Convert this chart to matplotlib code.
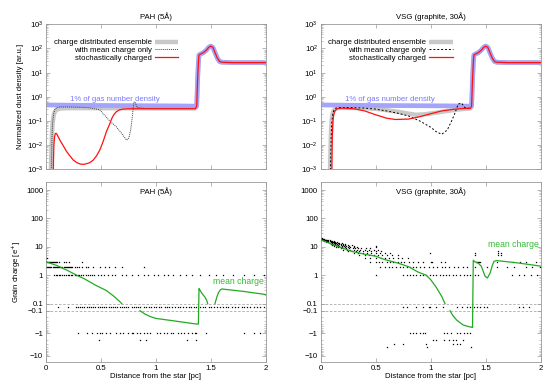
import numpy as np
import matplotlib.pyplot as plt

plt.rcParams['font.family'] = ['Liberation Sans', 'DejaVu Sans']
plt.rcParams['font.size'] = 5.6

# ---- top panels: normalized dust density ----
gas_x = [0, 0.4, 0.8, 1.2, 1.355]
gas_v = [0.46, 0.44, 0.43, 0.42, 0.41]
# common part after the shock (all curves follow it)
tail_x = [1.37, 1.372, 1.38, 1.388, 1.393, 1.41, 1.43, 1.46, 1.48, 1.50, 1.52, 1.54, 1.56, 1.58, 1.60, 1.7, 2.0]
tail_v = [0.40, 0.45, 5.0, 30, 54, 60, 66, 85, 110, 126, 110, 65, 40, 29, 27, 26, 26]

pah_ens_x = [0.04, 0.045, 0.05, 0.055, 0.06, 0.07, 0.08, 0.1, 0.13, 0.2, 0.5, 1.0, 1.36]
pah_ens_v = [1e-4, 1e-3, 0.006, 0.03, 0.08, 0.17, 0.24, 0.3, 0.33, 0.34, 0.34, 0.33, 0.33]
pah_mean_x = [0.045, 0.05, 0.055, 0.06, 0.07, 0.08, 0.1, 0.13, 0.2, 0.3, 0.4, 0.49, 0.58, 0.64, 0.69,
              0.734, 0.755, 0.771, 0.78, 0.789, 0.80, 0.81, 0.83, 0.9, 1.36]
pah_mean_v = [1e-4, 2e-3, 0.02, 0.08, 0.2, 0.3, 0.36, 0.38, 0.38, 0.37, 0.35, 0.29, 0.1, 0.057, 0.03,
              0.016, 0.02, 0.043, 0.09, 0.21, 0.6, 0.62, 0.36, 0.33, 0.33]
pah_sto_x = [0.066, 0.068, 0.072, 0.078, 0.085, 0.092, 0.1, 0.127, 0.16, 0.188, 0.22, 0.249, 0.28, 0.31,
             0.34, 0.37, 0.40, 0.43, 0.46, 0.49, 0.52, 0.55, 0.58, 0.6, 0.62, 0.64, 0.67, 0.7, 0.75, 1.0, 1.36]
pah_sto_v = [1e-4, 2e-3, 0.01, 0.022, 0.03, 0.031, 0.028, 0.016, 0.009, 5.4e-3, 3.5e-3, 2.4e-3, 1.9e-3,
             1.65e-3, 1.6e-3, 1.7e-3, 1.9e-3, 2.4e-3, 3.6e-3, 6.3e-3, 0.014, 0.036, 0.075, 0.13, 0.19,
             0.24, 0.29, 0.31, 0.32, 0.32, 0.32]

vsg_ens_x = [0.08, 0.085, 0.09, 0.095, 0.1, 0.11, 0.12, 0.14, 0.17, 0.25, 0.4, 0.5, 0.6, 0.7, 0.8, 0.87,
             0.95, 1.05, 1.15, 1.25, 1.36]
vsg_ens_v = [1e-4, 1e-3, 0.01, 0.05, 0.12, 0.22, 0.28, 0.33, 0.35, 0.35, 0.34, 0.32, 0.28, 0.24, 0.2,
             0.18, 0.19, 0.22, 0.26, 0.3, 0.33]
vsg_mean_x = [0.085, 0.09, 0.095, 0.1, 0.11, 0.12, 0.14, 0.17, 0.25, 0.4, 0.5, 0.6, 0.7, 0.8, 0.9, 1.0,
              1.05, 1.1, 1.15, 1.19, 1.22, 1.25, 1.28, 1.31, 1.36]
vsg_mean_v = [1e-4, 2e-3, 0.02, 0.08, 0.2, 0.28, 0.34, 0.36, 0.36, 0.34, 0.31, 0.26, 0.21, 0.16, 0.1,
              0.055, 0.036, 0.028, 0.042, 0.1, 0.21, 0.5, 0.55, 0.36, 0.33]
vsg_sto_x = [0.1, 0.102, 0.105, 0.11, 0.115, 0.12, 0.13, 0.145, 0.16, 0.2, 0.3, 0.4, 0.5, 0.6, 0.68,
             0.8, 0.9, 1.0, 1.1, 1.2, 1.3, 1.36]
vsg_sto_v = [1e-4, 2e-3, 0.02, 0.08, 0.15, 0.2, 0.26, 0.31, 0.33, 0.34, 0.32, 0.26, 0.18, 0.13, 0.115,
             0.12, 0.15, 0.2, 0.26, 0.3, 0.33, 0.33]

# ---- bottom panels: mean grain charge (gap = |q| < 0.1 not drawn) ----
pah_q_x = [0, 0.1, 0.2, 0.28, 0.35, 0.45, 0.55, 0.62, 0.67, 0.69, None,
           0.856, 0.9, 0.947, 1.0, 1.16, 1.3, 1.37, 1.387, 1.393, 1.402, 1.417, 1.432, 1.447, 1.463, 1.472, None,
           1.538, 1.555, 1.569, 1.585, 1.6, 1.8, 2.0]
pah_q_v = [3.0, 2.2, 1.45, 1.0, 0.75, 0.45, 0.29, 0.18, 0.12, 0.1, None,
           -0.1, -0.14, -0.18, -0.22, -0.28, -0.35, -0.39, -0.39, 0.34, 0.3, 0.24, 0.2, 0.17, 0.13, 0.1, None,
           0.1, 0.17, 0.24, 0.3, 0.33, 0.27, 0.21]
vsg_q_x = [0, 0.1, 0.28, 0.4, 0.5, 0.58, 0.7, 0.8, 0.885, 0.96, 1.0, 1.05, 1.1, 1.13, None,
           1.175, 1.2, 1.236, 1.27, 1.296, 1.34, 1.372, 1.38, 1.387, 1.40, 1.43, 1.46, 1.48, 1.494, 1.515,
           1.54, 1.56, 1.575, 1.6, 1.8, 2.0]
vsg_q_v = [18, 12.5, 7.0, 5.5, 4.7, 3.6, 2.7, 2.0, 1.3, 1.0, 0.7, 0.38, 0.18, 0.1, None,
           -0.1, -0.16, -0.26, -0.35, -0.43, -0.5, -0.54, -0.55, 3.4, 3.0, 2.7, 2.1, 1.3, 0.93, 0.8,
           1.2, 2.2, 3.1, 3.3, 2.7, 2.1]

# ---- bottom panels: charges of individual grains ----
pah_levels = [4, 3, 2, 1, 0, -1, -2]
pah_pos = [
    [0.004, 0.012],
    [0.0, 0.008, 0.016, 0.024, 0.032, 0.04, 0.048, 0.056, 0.064, 0.072, 0.08, 0.09, 0.1, 0.115, 0.164,
     0.182, 0.212, 0.33],
    [0.0, 0.01, 0.02, 0.03, 0.04, 0.05, 0.06, 0.07, 0.08, 0.09, 0.1, 0.11, 0.12, 0.13, 0.14, 0.15, 0.16,
     0.17, 0.18, 0.19, 0.2, 0.21, 0.22, 0.23, 0.24, 0.26, 0.28, 0.3, 0.33, 0.36, 0.38, 0.43, 0.49, 0.54,
     0.57, 0.63, 0.69, 0.89],
    [0.07, 0.09, 0.1, 0.12, 0.13, 0.15, 0.16, 0.18, 0.2, 0.21, 0.23, 0.24, 0.26, 0.27, 0.29, 0.3, 0.32,
     0.34, 0.36, 0.38, 0.4, 0.42, 0.44, 0.47, 0.5, 0.53, 0.56, 0.6, 0.63, 0.69, 0.73, 0.78, 0.84, 0.89,
     0.93, 0.98, 1.02, 1.07, 1.11, 1.16, 1.22, 1.27, 1.33, 1.40, 1.48, 1.55, 1.61, 1.70, 1.80, 1.89, 1.98],
    [0.11, 0.2, 0.27, 0.29, 0.31, 0.33, 0.35, 0.37, 0.39, 0.41, 0.43, 0.45, 0.47, 0.49, 0.51, 0.53, 0.55,
     0.57, 0.59, 0.61, 0.63, 0.65, 0.67, 0.69, 0.71, 0.73, 0.75, 0.78, 0.8, 0.82, 0.84, 0.86, 0.89, 0.91,
     0.94, 0.96, 0.98, 1.0, 1.03, 1.05, 1.08, 1.1, 1.12, 1.15, 1.17, 1.2, 1.22, 1.25, 1.27, 1.3, 1.32,
     1.35, 1.37, 1.4, 1.43, 1.45, 1.48, 1.5, 1.53, 1.56, 1.58, 1.61, 1.64, 1.66, 1.69, 1.72, 1.75, 1.78,
     1.8, 1.83, 1.86, 1.89, 1.92, 1.95, 1.98],
    [0.29, 0.37, 0.42, 0.46, 0.49, 0.51, 0.55, 0.58, 0.64, 0.67, 0.70, 0.75, 0.78, 0.79, 0.83, 0.86, 0.89,
     0.92, 0.95, 1.01, 1.04, 1.07, 1.10, 1.14, 1.16, 1.20, 1.23, 1.26, 1.29, 1.33, 1.36, 1.37, 1.46, 1.80,
     1.89, 1.95],
    [0.485, 0.856, 0.91, 1.28, 1.365],
]

vsg_levels = [20, 19, 18, 17, 16, 15, 14, 13, 12, 11, 10, 9, 8, 7, 6, 5, 4, 3, 2, 1, 0, -1, -2, -3, -4]
vsg_pos = [
    [0.0, 0.01],
    [0.0, 0.01, 0.02, 0.03],
    [0.0, 0.01, 0.02, 0.03, 0.04, 0.05],
    [0.02, 0.03, 0.04, 0.05, 0.06, 0.07, 0.08],
    [0.03, 0.05, 0.06, 0.07, 0.08, 0.09, 0.1, 0.12],
    [0.05, 0.07, 0.09, 0.1, 0.11, 0.12, 0.13, 0.15],
    [0.08, 0.1, 0.12, 0.13, 0.14, 0.16, 0.17, 0.19],
    [0.09, 0.11, 0.13, 0.15, 0.17, 0.18, 0.2, 0.22],
    [0.1, 0.12, 0.14, 0.16, 0.18, 0.2, 0.22, 0.25, 0.28],
    [0.12, 0.15, 0.17, 0.19, 0.21, 0.23, 0.26, 0.3, 0.5],
    [0.14, 0.16, 0.19, 0.22, 0.25, 0.27, 0.3, 0.33, 0.5],
    [0.18, 0.2, 0.23, 0.26, 0.29, 0.31, 0.34, 0.37, 0.41, 0.45],
    [0.2, 0.24, 0.27, 0.3, 0.33, 0.36, 0.4, 0.44, 0.48, 0.52],
    [0.25, 0.28, 0.32, 0.35, 0.38, 0.42, 0.46, 0.5, 0.55, 1.61],
    [0.3, 0.34, 0.38, 0.42, 0.46, 0.5, 0.54, 0.58, 0.63, 0.99, 1.40, 1.61, 1.64],
    [0.35, 0.4, 0.44, 0.48, 0.52, 0.56, 0.6, 0.65, 0.7, 1.40, 1.61, 1.64],
    [0.4, 0.45, 0.5, 0.55, 0.58, 0.62, 0.66, 0.7, 0.74, 0.79],
    [0.45, 0.5, 0.53, 0.56, 0.6, 0.63, 0.66, 0.7, 0.73, 0.76, 0.8, 0.84, 0.88, 0.93, 1.0, 1.01, 1.09, 1.13,
     1.41, 1.42, 1.43, 1.44, 1.45, 1.6, 1.75, 1.81, 1.87, 1.96],
    [0.54, 0.58, 0.62, 0.65, 0.68, 0.72, 0.75, 0.78, 0.81, 0.84, 0.87, 0.9, 0.94, 0.98, 1.02, 1.06, 1.1,
     1.13, 1.17, 1.21, 1.25, 1.29, 1.33, 1.4, 1.51, 1.6, 1.69, 1.76, 1.87, 1.92, 1.99],
    [0.5, 0.75, 0.78, 0.81, 0.84, 0.87, 0.9, 0.93, 0.96, 0.99, 1.02, 1.05, 1.08, 1.11, 1.14, 1.17, 1.2,
     1.23, 1.27, 1.3, 1.33, 1.36, 1.40, 1.43, 1.74, 1.8, 1.85, 1.91, 1.97],
    [0.75, 0.78, 0.87, 0.93, 0.98, 0.99, 1.05, 1.11, 1.24, 1.28, 1.33, 1.36, 1.39, 1.42, 1.45, 1.48, 1.51,
     1.80, 1.84, 1.89],
    [0.81, 0.84, 0.87, 0.9, 0.93, 0.95, 1.12, 1.15, 1.18, 1.24, 1.27, 1.30, 1.33, 1.36],
    [1.02, 1.05, 1.12, 1.17, 1.2, 1.23, 1.29],
    [0.67, 0.75, 0.96, 1.2, 1.24, 1.27],
    [0.6, 0.97, 1.37],
]

# ---- split log scale for the charge axis ----
H, AP, AN = 3.5, 28.4, 22.6


def fwd(y):
    y = np.asarray(y, float)
    with np.errstate(all='ignore'):
        pos = H + AP * (np.log10(np.abs(y)) + 1)
        neg = -(H + AN * (np.log10(np.abs(y)) + 1))
        lin = y / 0.1 * H
    return np.where(y >= 0.1, pos, np.where(y <= -0.1, neg, lin))


def inv(u):
    u = np.asarray(u, float)
    with np.errstate(all='ignore'):
        pos = 10 ** ((u - H) / AP - 1)
        neg = -10 ** ((-u - H) / AN - 1)
        lin = u / H * 0.1
    return np.where(u >= H, pos, np.where(u <= -H, neg, lin))


frame = '#999999'


def style(ax):
    for s in ax.spines.values():
        s.set_color(frame)
        s.set_linewidth(0.6)
    ax.tick_params(which='both', direction='in', top=True, right=True, color=frame,
                   labelsize=5.6, pad=2)
    ax.tick_params(which='major', length=3, width=0.5)
    ax.tick_params(which='minor', length=1.5, width=0.4)
    ax.set_xlim(0, 2)
    ax.set_xticks([0, 0.5, 1, 1.5, 2])


fig = plt.figure(figsize=(5.5, 3.85), dpi=100)
top_axes = [fig.add_axes([0.0836, 0.5603, 0.3995, 0.3765]),
            fig.add_axes([0.5831, 0.5603, 0.4, 0.3765])]
bot_axes = [fig.add_axes([0.0836, 0.059, 0.3995, 0.4683]),
            fig.add_axes([0.5831, 0.059, 0.4, 0.4683])]

titles = ['PAH (5Å)', 'VSG (graphite, 30Å)']
ens = [(pah_ens_x, pah_ens_v), (vsg_ens_x, vsg_ens_v)]
mean = [(pah_mean_x, pah_mean_v), (vsg_mean_x, vsg_mean_v)]
sto = [(pah_sto_x, pah_sto_v), (vsg_sto_x, vsg_sto_v)]
mean_style = [dict(color='#444444', ls=(0, (1, 1)), lw=0.7),
              dict(color='k', ls=(0, (2, 2)), lw=0.7)]
leg_anchor = [(0.3236, 0.899), (0.8230, 0.899)]

for i, ax in enumerate(top_axes):
    ax.set_yscale('log')
    ax.plot(ens[i][0] + tail_x, ens[i][1] + tail_v, color='#c8c8c8', lw=3.2,
            label='charge distributed ensemble', zorder=1, solid_capstyle='butt')
    ax.plot(gas_x + tail_x, gas_v + tail_v, color='#a4a4fa', lw=3.4, zorder=2, solid_capstyle='butt')
    ax.plot(mean[i][0], mean[i][1], label='with mean charge only', zorder=3, **mean_style[i])
    ax.plot(sto[i][0] + tail_x, sto[i][1] + tail_v, color='#ff1010', lw=0.9,
            label='stochastically charged', zorder=4)
    ax.text(0.63, 0.74, '1% of gas number density', color='#7878ff', ha='center', va='center')
    ax.set_ylim(1e-3, 1e3)
    style(ax)
    ax.tick_params(axis='x', labelbottom=False)
    ax.set_title(titles[i], fontsize=5.6, pad=4)
    ax.legend(loc='upper right', bbox_to_anchor=leg_anchor[i], bbox_transform=fig.transFigure,
              frameon=False, markerfirst=False, borderpad=0, borderaxespad=0,
              handlelength=3.0, handletextpad=0.4, labelspacing=0.05, fontsize=5.6)
top_axes[0].set_ylabel('Normalized dust density [ar.u.]', labelpad=2)

charge = [(pah_q_x, pah_q_v), (vsg_q_x, vsg_q_v)]
dots = [(pah_levels, pah_pos), (vsg_levels, vsg_pos)]
label_xy = [(1.75, 0.6), (1.75, 12)]
major = [1000, 100, 10, 1, 0.1, -0.1, -1, -10]
major_lbl = ['1000', '100', '10', '1', '0.1', '−0.1', '−1', '−10']
minor = [k * 10.0 ** e for e in range(-1, 3) for k in range(2, 10)]
minor = minor + [-m for m in minor if m < 20]

for i, ax in enumerate(bot_axes):
    ax.set_yscale('function', functions=(fwd, inv))
    ax.set_ylim(-19.2, 1930)
    ax.axhline(0.1, color='#aaaaaa', lw=0.6, ls=(0, (3, 2)), zorder=1)
    ax.axhline(-0.1, color='#aaaaaa', lw=0.6, ls=(0, (3, 2)), zorder=1)
    for q, xs in zip(*dots[i]):
        ax.plot(xs, [q] * len(xs), ls='none', marker='s', ms=0.9, mew=0, color='k', zorder=2)
    qx = np.array(charge[i][0], dtype=float)
    qv = np.array(charge[i][1], dtype=float)
    ax.plot(qx, qv, color='#22aa22', lw=0.9, zorder=3)
    ax.text(label_xy[i][0], label_xy[i][1], 'mean charge', color='#33bb33', ha='center', va='center',
            fontsize=6.2)
    style(ax)
    ax.set_yticks(major, major_lbl)
    ax.set_yticks(minor, minor=True)
    ax.set_xticklabels(['0', '0.5', '1', '1.5', '2'])
    ax.text(0.5, 0.945, titles[i], transform=ax.transAxes, ha='center', va='center')
    ax.set_xlabel('Distance from the star [pc]', labelpad=1)
bot_axes[0].set_ylabel('Grain charge [e$^{+}$]', labelpad=2)

fig.savefig('out.png', dpi=100)
